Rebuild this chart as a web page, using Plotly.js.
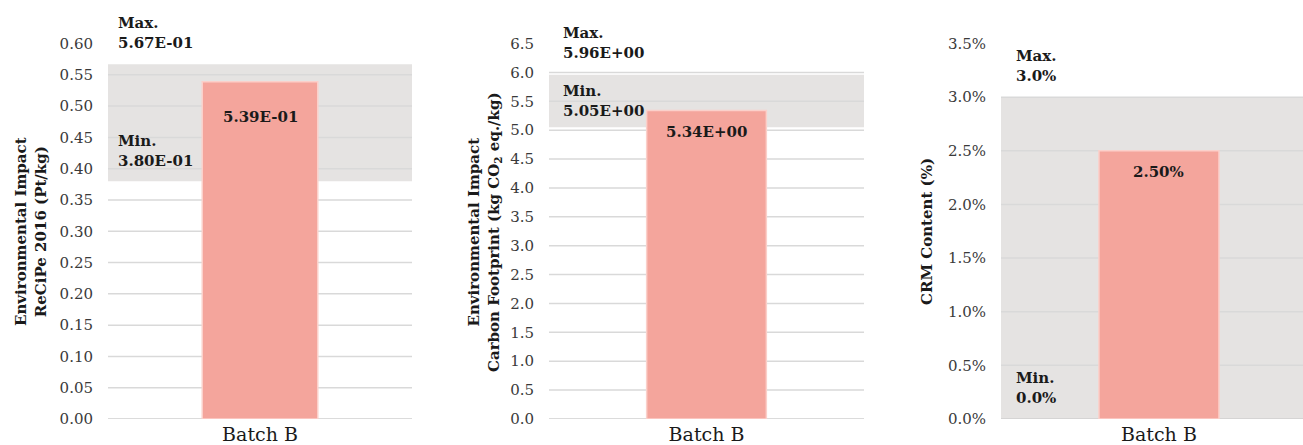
<!DOCTYPE html>
<html>
<head>
<meta charset="utf-8">
<script src="https://cdn.plot.ly/plotly-3.0.1.min.js"></script>
<style>
  html, body { margin: 0; padding: 0; background: #ffffff; }
  #chart { width: 1303px; height: 445px; }
</style>
</head>
<body>
<div id="chart"></div>
<script>
// Batch labels
const categories = ['Batch B'];

// ReCiPe 2016 single score (Pt/kg)
const recipeValues = [0.539];
const recipeMin = 0.380;
const recipeMax = 0.567;
const recipeTicks = [0, 0.05, 0.10, 0.15, 0.20, 0.25, 0.30, 0.35, 0.40, 0.45, 0.50, 0.55, 0.60];

// Carbon footprint (kg CO2 eq./kg)
const carbonValues = [5.34];
const carbonMin = 5.05;
const carbonMax = 5.96;
const carbonTicks = [0, 0.5, 1.0, 1.5, 2.0, 2.5, 3.0, 3.5, 4.0, 4.5, 5.0, 5.5, 6.0, 6.5];

// Critical raw material content (fraction)
const crmValues = [0.025];
const crmMin = 0.0;
const crmMax = 0.03;
const crmTicks = [0, 0.005, 0.010, 0.015, 0.020, 0.025, 0.030, 0.035];

const FONT = 'DejaVu Serif, Liberation Serif, serif';
const W = 1303, H = 445;
const px = v => v / W;
const py = v => 1 - v / H;

// 5.39E-01 style
function sci(v) {
  const parts = v.toExponential(2).split('e');
  const e = parseInt(parts[1], 10);
  return parts[0] + 'E' + (e < 0 ? '-' : '+') + String(Math.abs(e)).padStart(2, '0');
}
const pct1 = v => (v * 100).toFixed(1) + '%';
const pct2 = v => (v * 100).toFixed(2) + '%';

const panels = [
  { values: recipeValues, min: recipeMin, max: recipeMax, ticks: recipeTicks,
    tickformat: '.2f', fmtBar: sci, fmtRange: sci,
    domain: [px(108), px(412)], xrange: [-0.5, 0.5], labelX: 116,
    maxY: 33, minY: 151, barShift: -35,
    title: 'Environmental Impact<br>ReCiPe 2016 (Pt/kg)', titleX: 31 },
  { values: carbonValues, min: carbonMin, max: carbonMax, ticks: carbonTicks,
    tickformat: '.1f', fmtBar: sci, fmtRange: sci,
    domain: [px(549), px(864)], xrange: [-0.5, 0.5], labelX: 561,
    maxY: 43, minY: 101, barShift: -21,
    title: 'Environmental Impact<br>Carbon Footprint (kg CO<sub>2</sub> eq./kg)', titleX: 484 },
  { values: crmValues, min: crmMin, max: crmMax, ticks: crmTicks,
    tickformat: '.1%', fmtBar: pct2, fmtRange: pct1,
    domain: [px(1001), 1], xrange: [-0.5, 0.456], labelX: 1014,
    maxY: 66, minY: 388, barShift: -21,
    title: 'CRM Content (%)', titleX: 927 }
];

const yDomain = [py(419), py(43.5)];
const data = [];
const shapes = [];
const annotations = [];
const layout = {
  width: W, height: H,
  margin: { l: 0, r: 0, t: 0, b: 0, pad: 0 },
  paper_bgcolor: '#ffffff',
  plot_bgcolor: 'rgba(0,0,0,0)',
  showlegend: false,
  font: { family: FONT, color: '#1a1a1a' },
  shapes: shapes,
  annotations: annotations
};

panels.forEach((p, i) => {
  const n = i === 0 ? '' : String(i + 1);
  const xa = 'x' + n, ya = 'y' + n;
  const top = p.ticks[p.ticks.length - 1];

  layout['xaxis' + n] = {
    domain: p.domain, anchor: ya, type: 'category', range: p.xrange,
    showgrid: false, zeroline: false, showline: false, ticks: '',
    tickfont: { family: FONT, size: 19, color: '#1a1a1a' },
    ticklabelstandoff: 2, fixedrange: true
  };
  layout['yaxis' + n] = {
    domain: yDomain, anchor: xa, range: [0, top],
    tickvals: p.ticks, tickformat: p.tickformat,
    showgrid: false, zeroline: false, showline: false, ticks: '',
    tickfont: { family: FONT, size: 15, color: '#3a3a3a' },
    ticklabelstandoff: 14, fixedrange: true
  };

  // shaded min–max range
  shapes.push({
    type: 'rect', layer: 'below', xref: xa + ' domain', yref: ya,
    x0: 0, x1: 1, y0: p.min, y1: p.max,
    fillcolor: '#e5e3e2', line: { width: 0 }
  });
  // horizontal gridlines (none at the top tick)
  p.ticks.slice(0, -1).forEach(t => {
    shapes.push({
      type: 'line', layer: 'below', xref: xa + ' domain', yref: ya,
      x0: 0, x1: 1, y0: t, y1: t,
      line: { color: t === 0 ? '#cfcfcf' : '#d9d9d9', width: 1.5 }
    });
  });

  data.push({
    type: 'bar', x: categories, y: p.values, xaxis: xa, yaxis: ya,
    width: 0.38,
    marker: { color: '#f4a59c', line: { color: '#fbd0ca', width: 1.5 } },
    hoverinfo: 'skip'
  });

  // value label inside the bar
  p.values.forEach((v, k) => {
    annotations.push({
      xref: xa, yref: ya, x: categories[k], y: v,
      text: '<b>' + p.fmtBar(v) + '</b>', showarrow: false,
      yanchor: 'middle', yshift: p.barShift,
      font: { family: FONT, size: 15, color: '#1a1a1a' }
    });
  });

  // range limits
  annotations.push({
    xref: 'paper', yref: 'paper', x: px(p.labelX), y: py(p.maxY),
    xanchor: 'left', yanchor: 'middle', align: 'left', showarrow: false,
    text: '<b>Max.<br>' + p.fmtRange(p.max) + '</b>',
    font: { family: FONT, size: 15, color: '#1a1a1a' }
  });
  annotations.push({
    xref: 'paper', yref: 'paper', x: px(p.labelX), y: py(p.minY),
    xanchor: 'left', yanchor: 'middle', align: 'left', showarrow: false,
    text: '<b>Min.<br>' + p.fmtRange(p.min) + '</b>',
    font: { family: FONT, size: 15, color: '#1a1a1a' }
  });

  // axis title
  annotations.push({
    xref: 'paper', yref: 'paper', x: px(p.titleX), y: py(232),
    xanchor: 'center', yanchor: 'middle', textangle: -90, showarrow: false,
    text: '<b>' + p.title + '</b>',
    font: { family: FONT, size: 15, color: '#1a1a1a' }
  });
});

Plotly.newPlot('chart', data, layout, { displayModeBar: false, staticPlot: true });
</script>
</body>
</html>
